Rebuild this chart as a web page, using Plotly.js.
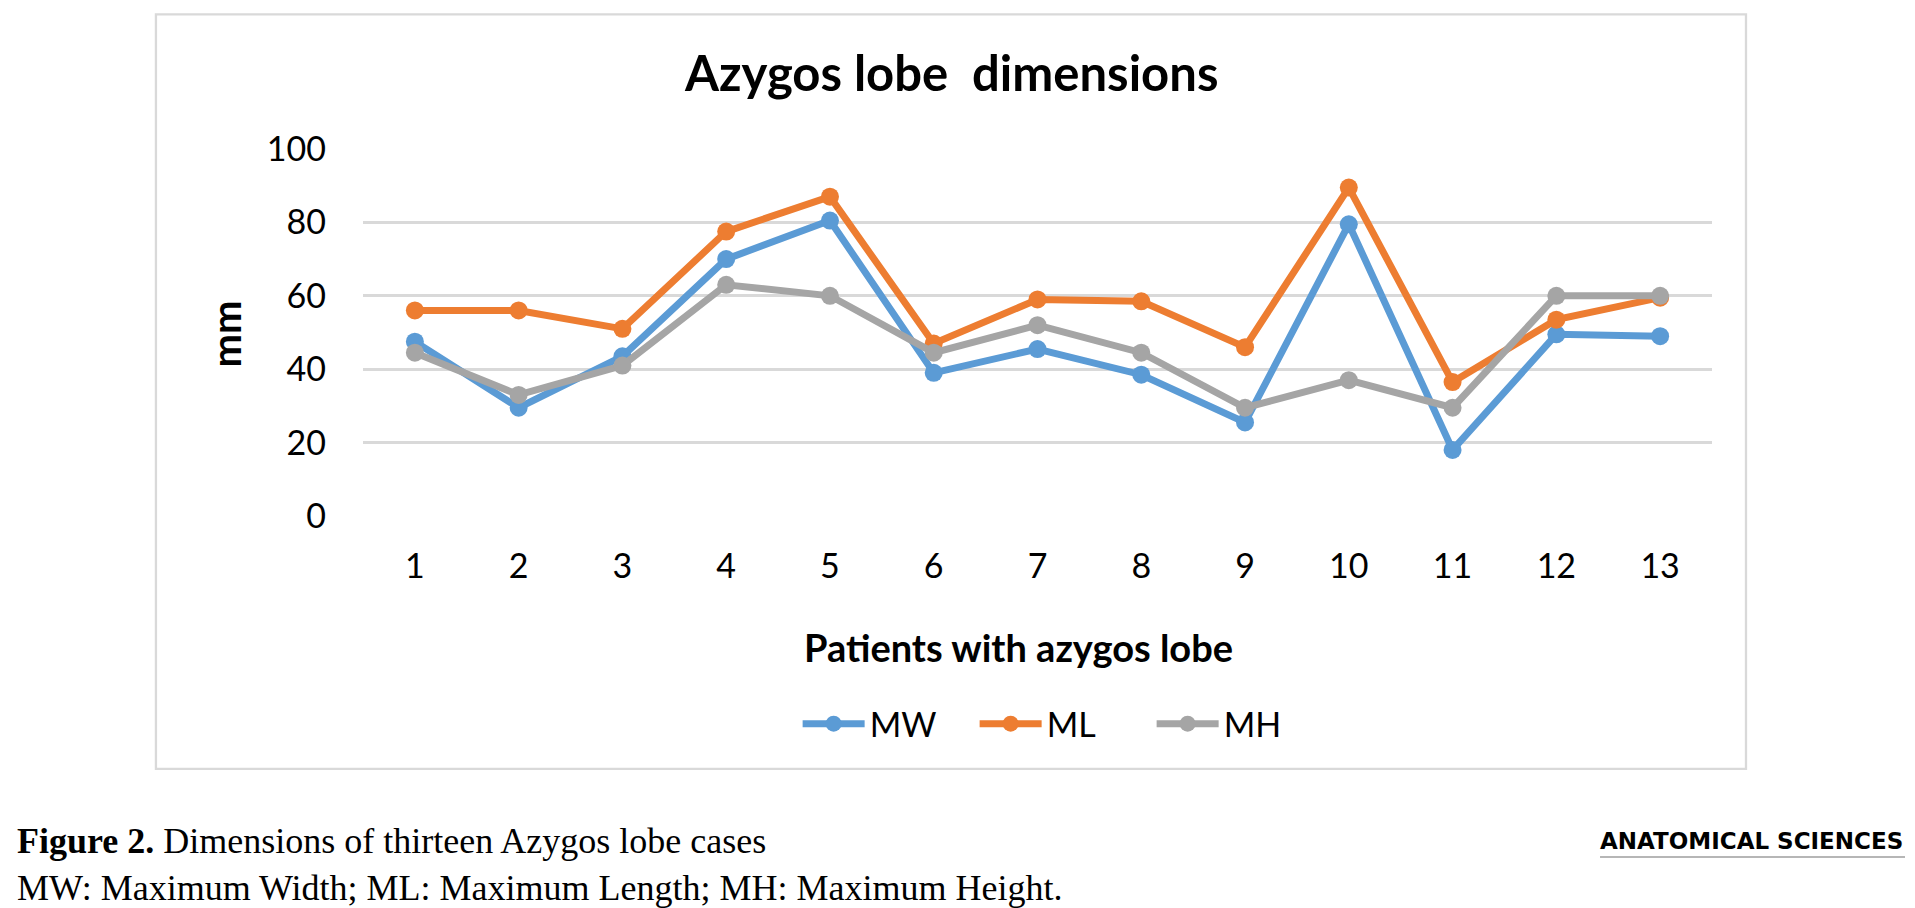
<!DOCTYPE html>
<html>
<head>
<meta charset="utf-8">
<script src="https://cdn.plot.ly/plotly-3.0.1.min.js"></script>
<style>
  html, body { margin: 0; padding: 0; background: #ffffff; }
  #chart { width: 1915px; height: 908px; }
</style>
</head>
<body>
<div id="chart"></div>
<script>
/* ─── Azygos lobe dimensions ─── */

const patients = ['1', '2', '3', '4', '5', '6', '7', '8', '9', '10', '11', '12', '13'];
const mwValues = [47.5, 29.5, 43.5, 70, 80.5, 39, 45.5, 38.5, 25.5, 79.5, 18, 49.5, 49];
const mlValues = [56, 56, 51, 77.5, 87, 47, 59, 58.5, 46, 89.5, 36.5, 53.5, 59.5];
const mhValues = [44.5, 33, 41, 63, 60, 44.5, 52, 44.5, 29.5, 37, 29.5, 60, 60];
const yTicks = [0, 20, 40, 60, 80, 100];

const SANS = 'Lato, Calibri, sans-serif';
const SERIF = '"Liberation Serif", "Times New Roman", serif';

function lineTrace(name, values, color) {
    return {
        x: patients,
        y: values,
        name: name,
        type: 'scatter',
        mode: 'lines+markers',
        line: { color: color, width: 7 },
        marker: { color: color, size: 18 },
        cliponaxis: false,
    };
}

const traces = [
    lineTrace('MW', mwValues, '#5B9BD5'),
    lineTrace('ML', mlValues, '#ED7D31'),
    lineTrace('MH', mhValues, '#A5A5A5'),
];

const layout = {
    width: 1915,
    height: 908,
    margin: { l: 363, r: 203, t: 149, b: 392 },
    paper_bgcolor: '#ffffff',
    plot_bgcolor: '#ffffff',
    showlegend: true,
    title: {
        text: '<b>Azygos lobe\u00a0 dimensions</b>',
        font: { family: SANS, size: 49, color: '#000000' },
        xref: 'container', yref: 'container',
        x: 0.497, y: 0.919, xanchor: 'center', yanchor: 'middle',
    },
    xaxis: {
        type: 'category',
        range: [-0.5, 12.5],
        showgrid: false,
        zeroline: false,
        showline: false,
        ticks: '',
        ticklabelstandoff: 27,
        tickfont: { family: SANS, size: 34, color: '#000000' },
    },
    yaxis: {
        range: [0, 100],
        tickvals: yTicks,
        showgrid: true,
        gridcolor: '#D9D9D9',
        gridwidth: 2.5,
        zeroline: false,
        showline: false,
        ticks: '',
        ticklabelstandoff: 36,
        tickfont: { family: SANS, size: 34, color: '#000000' },
    },
    legend: {
        orientation: 'h',
        x: 0.519, y: -0.567,
        xanchor: 'center', yanchor: 'middle',
        font: { family: SANS, size: 34, color: '#000000' },
        itemwidth: 62,
        entrywidth: 100,
        bgcolor: 'rgba(0,0,0,0)',
    },
    shapes: [
        // outer chart frame
        {
            type: 'rect', xref: 'paper', yref: 'paper', layer: 'below',
            x0: -0.1535, x1: 1.0252, y0: -0.689, y1: 1.367,
            line: { color: '#D9D9D9', width: 2.3 },
        },
        // rule under the journal logo
        {
            type: 'line', xref: 'paper', yref: 'paper',
            x0: 0.917, x1: 1.1431, y0: -0.929, y1: -0.929,
            line: { color: '#9E9E9E', width: 1.5 },
        },
    ],
    annotations: [
        {
            text: '<b>mm</b>', textangle: -90,
            xref: 'paper', yref: 'paper', x: -0.1017, y: 0.497,
            xanchor: 'center', yanchor: 'middle', showarrow: false,
            font: { family: SANS, size: 40, color: '#000000' },
        },
        {
            text: '<b>Patients with azygos lobe</b>',
            xref: 'paper', yref: 'paper', x: 0.486, y: -0.357,
            xanchor: 'center', yanchor: 'middle', showarrow: false,
            font: { family: SANS, size: 38, color: '#000000' },
        },
        {
            text: '<b>Figure 2.</b> Dimensions of thirteen Azygos lobe cases',
            xref: 'paper', yref: 'paper', x: -0.258, y: -0.886,
            xanchor: 'left', yanchor: 'middle', showarrow: false,
            font: { family: SERIF, size: 36, color: '#000000' },
        },
        {
            text: 'MW: Maximum Width; ML: Maximum Length; MH: Maximum Height.',
            xref: 'paper', yref: 'paper', x: -0.258, y: -1.0136,
            xanchor: 'left', yanchor: 'middle', showarrow: false,
            font: { family: SERIF, size: 36, color: '#000000' },
        },
        {
            text: '<b>ANATOMICAL SCIENCES</b>',
            xref: 'paper', yref: 'paper', x: 1.1431, y: -0.886,
            xanchor: 'right', yanchor: 'middle', showarrow: false,
            font: { family: '"DejaVu Sans", sans-serif', size: 23, color: '#000000' },
        },
    ],
};

Plotly.newPlot('chart', traces, layout, { displayModeBar: false, responsive: false });
</script>
</body>
</html>
